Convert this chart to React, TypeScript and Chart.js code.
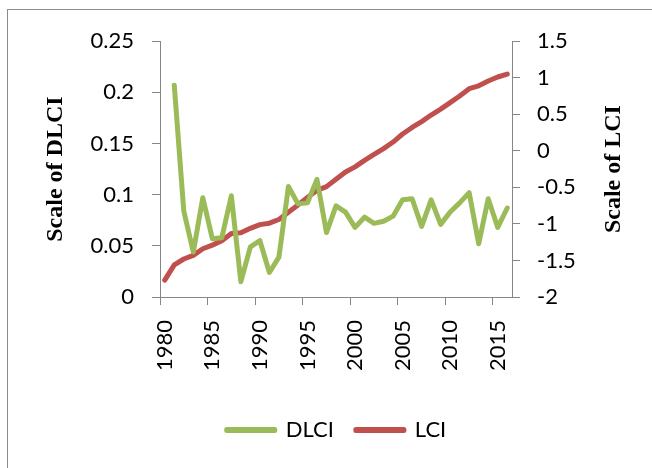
import React, { useEffect, useRef } from "react";
import { Chart, registerables } from "chart.js";

Chart.register(...registerables);

const years = [
  "1980", "1981", "1982", "1983", "1984", "1985", "1986", "1987", "1988", "1989",
  "1990", "1991", "1992", "1993", "1994", "1995", "1996", "1997", "1998", "1999",
  "2000", "2001", "2002", "2003", "2004", "2005", "2006", "2007", "2008", "2009",
  "2010", "2011", "2012", "2013", "2014", "2015", "2016",
];

const dlci = [
  null, 0.207, 0.084, 0.044, 0.097, 0.057, 0.058, 0.099, 0.015, 0.049,
  0.055, 0.024, 0.039, 0.108, 0.091, 0.092, 0.115, 0.063, 0.089, 0.083,
  0.068, 0.078, 0.072, 0.074, 0.079, 0.095, 0.096, 0.069, 0.095, 0.071,
  0.083, 0.092, 0.102, 0.052, 0.096, 0.068, 0.087,
];

const lci = [
  -1.77, -1.56, -1.48, -1.43, -1.34, -1.29, -1.23, -1.13, -1.12, -1.06,
  -1.01, -0.99, -0.94, -0.84, -0.74, -0.64, -0.54, -0.49, -0.39, -0.29,
  -0.22, -0.13, -0.05, 0.03, 0.12, 0.23, 0.32, 0.4, 0.49, 0.57,
  0.66, 0.75, 0.85, 0.89, 0.955, 1.01, 1.05,
];

const seriesNames = ["DLCI", "LCI"];
const leftTitle = "Scale of DLCI";
const rightTitle = "Scale of LCI";

const GREEN = "#9BBB59";
const RED = "#C0504D";
const AXIS = "#868686";
const TICK_FONT = { family: "Lato, 'Open Sans', sans-serif", size: 22 };

const rightTitlePlugin = {
  id: "rightTitle",
  afterDraw(chart: any) {
    const { ctx, chartArea } = chart;
    ctx.save();
    ctx.font = "bold 24px 'Liberation Serif', 'Times New Roman', serif";
    ctx.fillStyle = "#000";
    ctx.textAlign = "center";
    ctx.textBaseline = "middle";
    ctx.translate(606, (chartArea.top + chartArea.bottom) / 2);
    ctx.rotate(-Math.PI / 2);
    ctx.fillText(rightTitle, 0, 0);
    ctx.restore();
  },
};

export default function App() {
  const ref = useRef<HTMLCanvasElement | null>(null);

  useEffect(() => {
    if (!ref.current) return;
    const chart = new Chart(ref.current, {
      type: "line",
      data: {
        labels: years,
        datasets: [
          {
            label: seriesNames[0],
            data: dlci,
            yAxisID: "y",
            borderColor: GREEN,
            backgroundColor: GREEN,
            borderWidth: 5,
            pointRadius: 0,
            borderCapStyle: "round",
            borderJoinStyle: "round",
            tension: 0,
          },
          {
            label: seriesNames[1],
            data: lci,
            yAxisID: "y1",
            borderColor: RED,
            backgroundColor: RED,
            borderWidth: 5,
            pointRadius: 0,
            borderCapStyle: "round",
            borderJoinStyle: "round",
            tension: 0,
          },
        ],
      },
      options: {
        animation: false,
        responsive: false,
        maintainAspectRatio: false,
        layout: { padding: { top: 28, bottom: 17, left: 13, right: 0 } },
        plugins: {
          tooltip: { enabled: false },
          legend: {
            position: "bottom",
            labels: {
              boxWidth: 48,
              boxHeight: 1,
              padding: 22,
              color: "#000",
              font: TICK_FONT,
            },
          },
        },
        scales: {
          x: {
            type: "category",
            offset: true,
            afterFit: (s: any) => {
              s.height = 100;
            },
            grid: {
              offset: true,
              drawOnChartArea: false,
              drawTicks: true,
              tickLength: 8,
              color: (c: any) => (c.index % 5 === 0 ? AXIS : "rgba(0,0,0,0)"),
            },
            border: { display: true, color: AXIS, width: 1 },
            ticks: {
              autoSkip: false,
              minRotation: 90,
              maxRotation: 90,
              padding: 15,
              color: "#000",
              font: TICK_FONT,
              callback: (_v: any, i: number) => (i % 5 === 0 ? years[i] : ""),
            },
          },
          y: {
            type: "linear",
            position: "left",
            min: 0,
            max: 0.25,
            afterFit: (s: any) => {
              s.width = 139;
            },
            grid: { drawOnChartArea: false, drawTicks: true, tickLength: 8, color: AXIS },
            border: { display: true, color: AXIS, width: 1 },
            ticks: {
              stepSize: 0.05,
              padding: 18,
              color: "#000",
              font: TICK_FONT,
              callback: (v: any) => String(Number(Number(v).toFixed(2))),
            },
            title: {
              display: true,
              text: leftTitle,
              color: "#000",
              padding: { top: 20, bottom: 0 },
              font: { family: "'Liberation Serif', 'Times New Roman', serif", size: 24, weight: "bold" },
            },
          },
          y1: {
            type: "linear",
            position: "right",
            min: -2,
            max: 1.5,
            afterFit: (s: any) => {
              s.width = 140;
            },
            grid: { drawOnChartArea: false, drawTicks: true, tickLength: 8, color: AXIS },
            border: { display: true, color: AXIS, width: 1 },
            ticks: {
              stepSize: 0.5,
              padding: 17,
              color: "#000",
              font: TICK_FONT,
              callback: (v: any) => String(Number(Number(v).toFixed(1))),
            },
          },
        },
      },
      plugins: [rightTitlePlugin],
    } as any);
    return () => chart.destroy();
  }, []);

  return (
    <div
      style={{
        position: "fixed",
        left: 7,
        top: 9,
        width: 700,
        height: 520,
        borderLeft: "1px solid #8c8c8c",
        borderTop: "1px solid #8c8c8c",
        background: "#fff",
      }}
    >
      <canvas ref={ref} width={644} height={458} style={{ display: "block", width: 644, height: 458 }} />
    </div>
  );
}
